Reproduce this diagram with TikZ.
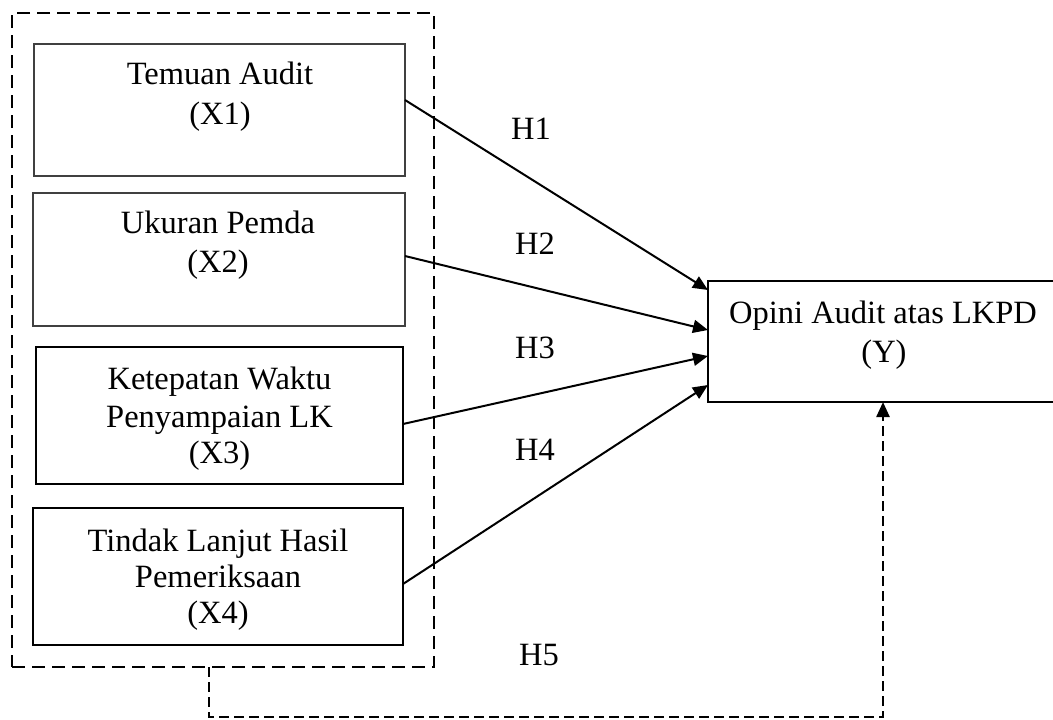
\documentclass[tikz,border=0pt]{standalone}
\usepackage{fontspec}
\setmainfont{Liberation Serif}
\usetikzlibrary{arrows.meta}
\begin{document}
\begin{tikzpicture}[x=1pt,y=-1pt,
  every node/.style={font=\fontsize{32.5}{38}\selectfont, inner sep=0pt, outer sep=0pt},
  thinbox/.style={draw=black!75, line width=1.4pt},
  boldbox/.style={draw=black, line width=2.1pt},
  groupbox/.style={draw=black, line width=2.3pt, dash pattern=on 13pt off 7pt},
  txt/.style={anchor=base},
  lbl/.style={anchor=center},
  arr/.style={line width=2pt, -{Triangle[length=15pt,width=13pt]}},
  darr/.style={line width=2.4pt, dash pattern=on 10pt off 5pt, -{Triangle[length=15pt,width=13pt]}}]
\useasboundingbox (0,0) rectangle (1053,720);
\clip (0,0) rectangle (1053,720);

% group (dashed) box
\node[groupbox, minimum width=422pt, minimum height=654pt] (grp) at (223,340) {};

% independent variable boxes
\node[thinbox, minimum width=371pt, minimum height=132pt] (x1) at (219.5,110) {};
\node[thinbox, minimum width=372pt, minimum height=133pt] (x2) at (219,259.5) {};
\node[boldbox, minimum width=367pt, minimum height=137pt] (x3) at (219.5,415.5) {};
\node[boldbox, minimum width=370pt, minimum height=137pt] (x4) at (218,576.5) {};

% dependent box
\node[boldbox, minimum width=362pt, minimum height=121pt] (y) at (889,341.5) {};

% texts
\node[txt] (t1a) at (220,84) {Temuan Audit};
\node[txt] (t1b) at (220,124) {(X1)};
\node[txt] (t2a) at (218,233) {Ukuran Pemda};
\node[txt] (t2b) at (218,272) {(X2)};
\node[txt] (t3a) at (219.5,389) {Ketepatan Waktu};
\node[txt] (t3b) at (219.5,427) {Penyampaian LK};
\node[txt] (t3c) at (219.5,463) {(X3)};
\node[txt] (t4a) at (218,551) {Tindak Lanjut Hasil};
\node[txt] (t4b) at (218,587) {Pemeriksaan};
\node[txt] (t4c) at (218,623) {(X4)};
\node[txt] (tya) at (883,323) {Opini Audit atas LKPD};
\node[txt] (tyb) at (884,362) {(Y)};

% hypothesis labels
\node[lbl] (h1) at (531,129) {H1};
\node[lbl] (h2) at (535,244) {H2};
\node[lbl] (h3) at (535,348) {H3};
\node[lbl] (h4) at (535,450) {H4};
\node[lbl] (h5) at (539,655) {H5};

% connectors
\draw[arr] ([yshift=10pt]x1.east) -- ([yshift=51.5pt]y.west);
\draw[arr] ([yshift=3.5pt]x2.east) -- ([yshift=11.5pt]y.west);
\draw[arr] ([yshift=-8.5pt]x3.east) -- ([yshift=-14.5pt]y.west);
\draw[arr] ([yshift=-7.5pt]x4.east) -- ([yshift=-43.5pt]y.west);
\draw[darr] ([xshift=-14pt]grp.south) -- ++(0,50) -| ([xshift=-6pt]y.south);
\end{tikzpicture}
\end{document}
